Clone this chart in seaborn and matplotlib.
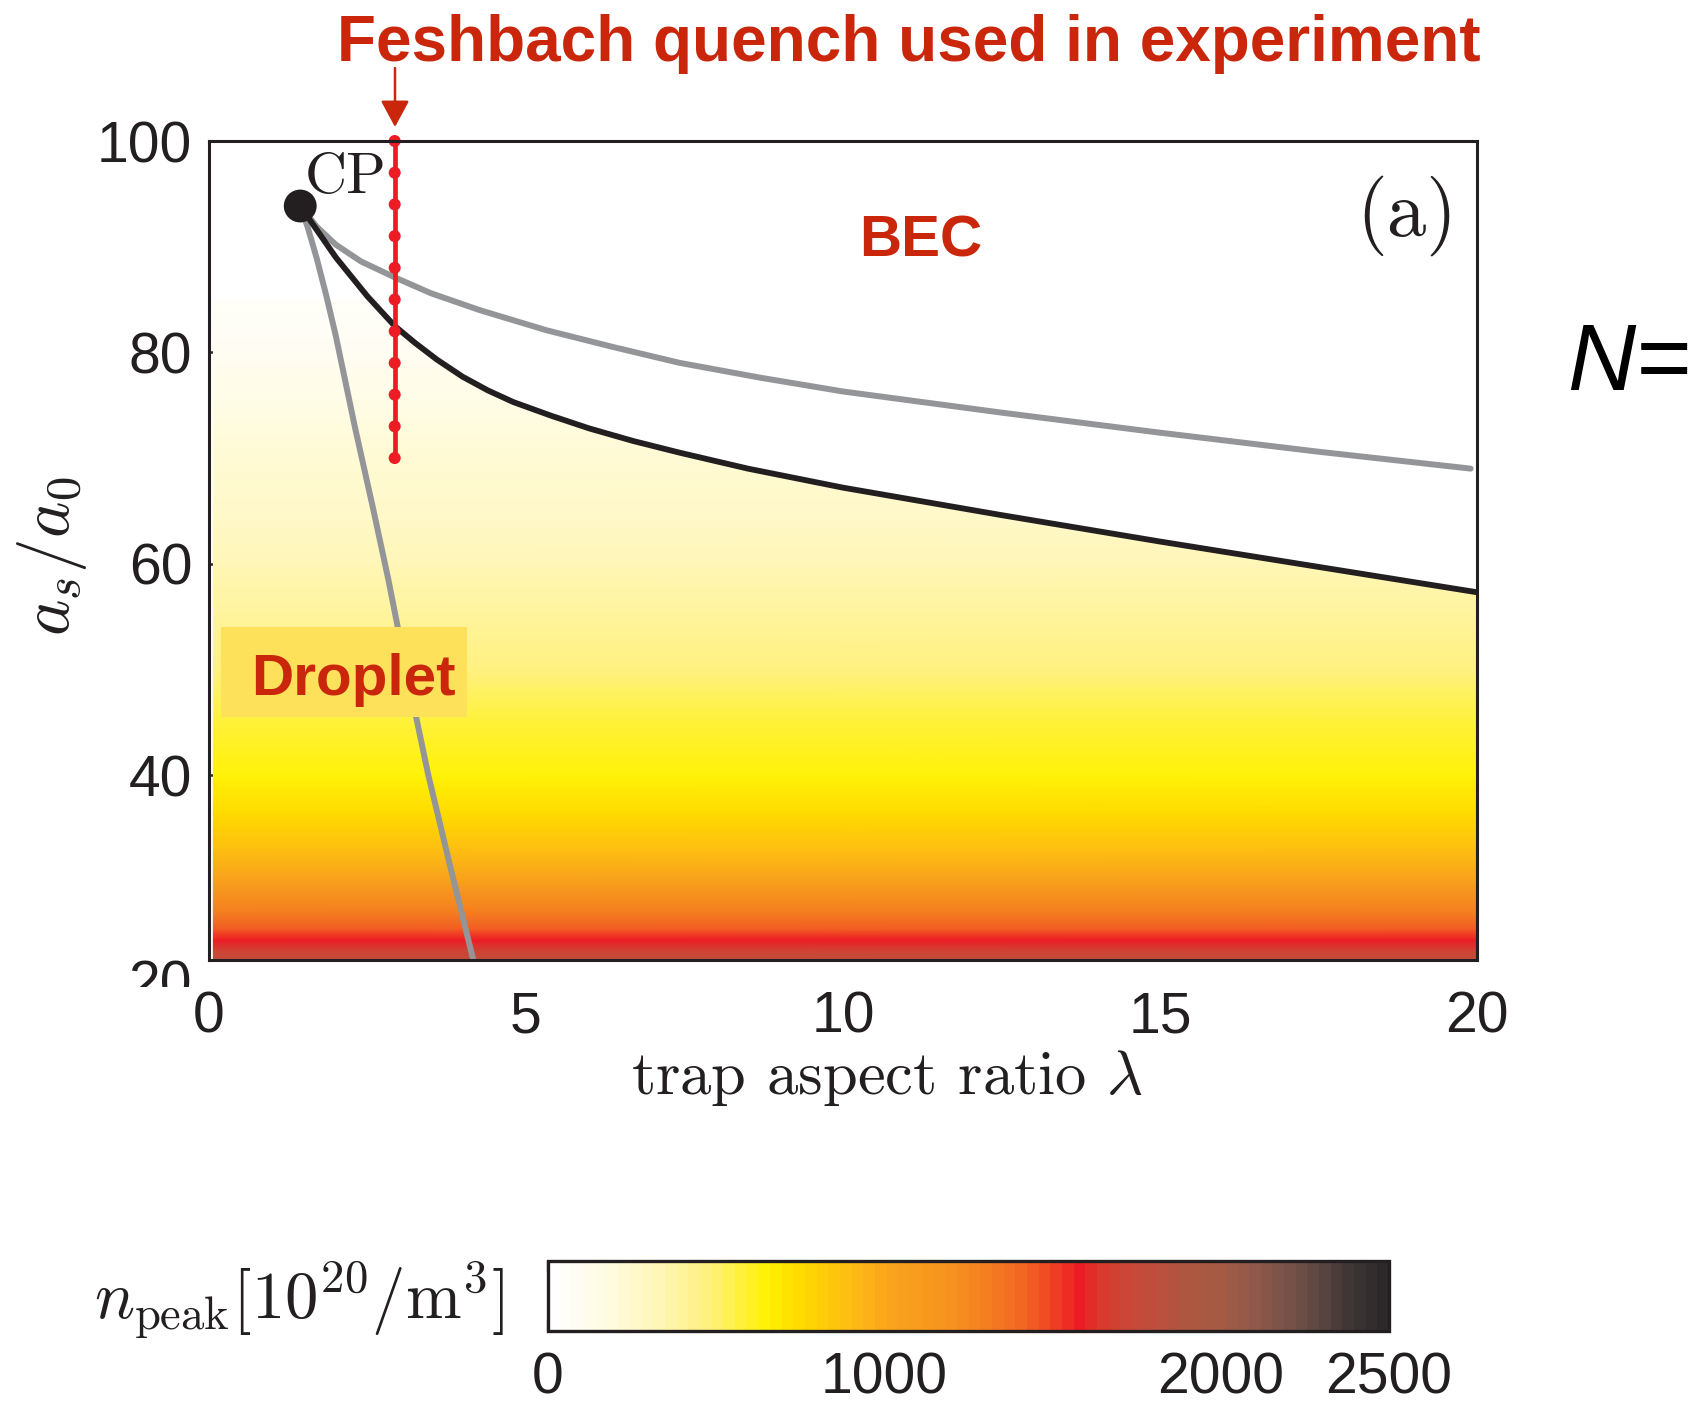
import numpy as np
import matplotlib
matplotlib.use("Agg")
import matplotlib.pyplot as plt
import matplotlib.patches as mpatches
from matplotlib.colors import LinearSegmentedColormap, ListedColormap, Normalize
import seaborn as sns

# ---------------- data ----------------
# phase boundary (black) between droplet and BEC
black_lam = [1.44, 2.0, 2.5, 2.93, 3.25, 3.6, 4.0, 4.4, 4.8, 5.4, 6.0, 6.7, 7.43,
             8.5, 10.0, 12.5, 15.0, 17.5, 20.0]
black_as = [93.85, 89.0, 85.3, 82.5, 80.9, 79.3, 77.7, 76.4, 75.3, 74.0, 72.8, 71.6, 70.5,
            69.0, 67.2, 64.6, 62.1, 59.7, 57.3]
# grey upper curve
gup_lam = [1.44, 1.7, 2.0, 2.4, 2.93, 3.5, 4.27, 5.32, 6.38, 7.43, 8.7, 10.0, 12.5, 15.0, 17.5, 19.9]
gup_as = [93.85, 91.9, 90.2, 88.6, 87.1, 85.6, 84.0, 82.1, 80.5, 79.0, 77.6, 76.3, 74.3, 72.4, 70.6, 69.0]
# grey lower curve
glo_lam = [1.44, 1.56, 1.70, 1.85, 2.0, 2.3, 2.59, 2.83, 3.1, 3.46, 3.8, 4.17]
glo_as = [93.85, 91.8, 88.9, 85.4, 81.6, 73.0, 65.2, 58.5, 50.3, 40.0, 31.5, 22.5]
# critical point
cp_lam = [1.44]
cp_as = [93.85]
# Feshbach quench points
quench_lam = [2.93] * 11
quench_as = [70, 73, 76, 79, 82, 85, 88, 91, 94, 97, 100]
# peak density profile vs scattering length (droplet region)
prof_as = [22.5, 23.5, 24.4, 25.4, 27.0, 30.0, 33.0, 36.4, 40.0, 45.0, 50.0, 55.0,
           60.0, 65.0, 70.0, 75.0, 80.0, 85.0]
prof_n = [1800, 1700, 1585, 1450, 1300, 1050, 900, 750, 640, 560, 480, 400,
          330, 270, 210, 160, 100, 40]
field_lam = [0.07, 20.0]
# axis ticks
xticks = [0, 5, 10, 15, 20]
yticks = [40, 60, 80, 100]
cbar_ticks = [0, 1000, 2000, 2500]

# ---------------- style ----------------
sns.set_style("ticks")
plt.rcParams['font.family'] = ['Liberation Sans', 'DejaVu Sans']
plt.rcParams['mathtext.fontset'] = 'cm'
INK = '#231f20'
RED_TXT = '#c9260c'

# colormap (white-yellow-orange-red-brown-black)
stops = [(0.0, '#ffffff'), (0.065, '#fffbe0'), (0.13, '#fff6b4'), (0.19, '#fff078'),
         (0.257, '#fff200'), (0.30, '#ffd800'), (0.35, '#fdc010'), (0.40, '#f9a61c'),
         (0.48, '#f7921e'), (0.56, '#f26a22'), (0.60, '#f04524'), (0.634, '#ed1c24'),
         (0.66, '#d93a2c'), (0.70, '#c8493a'), (0.76, '#ae5640'), (0.80, '#a65a42'),
         (0.84, '#93594a'), (0.90, '#6f4f48'), (0.96, '#3f3636'), (1.0, '#2d2829')]
base = LinearSegmentedColormap.from_list('npeak', stops, N=512)
cmap = ListedColormap(base(np.linspace(0, 1, 72)))
norm = Normalize(vmin=0, vmax=2500)

fig = plt.figure(figsize=(17, 14.06), dpi=100)
ax = fig.add_axes([0.1229, 0.3172, 0.7459, 0.5825])

# density field
X, Y = np.meshgrid(np.array(field_lam), np.array(prof_as))
C = np.tile(np.array(prof_n, dtype=float)[:, None], (1, len(field_lam)))
mesh = ax.pcolormesh(X, Y, C, cmap=cmap, norm=norm, shading='gouraud', zorder=1)
# BEC region above the boundary is white
ax.fill_between(black_lam, black_as, 100, color='white', lw=0, zorder=1.5)

# curves
line_kw = dict(ax=ax, sort=False, estimator=None)
sns.lineplot(x=gup_lam, y=gup_as, color='#939598', lw=4.3, zorder=3, **line_kw)
sns.lineplot(x=glo_lam, y=glo_as, color='#939598', lw=4.3, zorder=3, **line_kw)
sns.lineplot(x=black_lam, y=black_as, color=INK, lw=4.2, zorder=3.5, **line_kw)
sns.lineplot(x=quench_lam, y=quench_as, color='#ed1c24', lw=3.4, zorder=4, **line_kw)
for l in ax.lines:
    l.set_solid_joinstyle('round')
    l.set_solid_capstyle('round')
sns.scatterplot(x=quench_lam, y=quench_as, ax=ax, s=75, color='#ed1c24',
                edgecolor='none', zorder=4.5, clip_on=False)
sns.scatterplot(x=cp_lam, y=cp_as, ax=ax, s=560, color=INK, edgecolor='none',
                zorder=5, clip_on=False)

ax.set_xlim(0, 20)
ax.set_ylim(22.5, 100)
ax.set_xticks(xticks)
ax.set_yticks(yticks)
ax.set_xlabel('')
ax.set_ylabel('')
for s in ax.spines.values():
    s.set_linewidth(2.2)
    s.set_color(INK)
    s.set_zorder(6)
ax.tick_params(direction='in', length=9, width=1.8, color=INK, labelsize=41,
               labelcolor=INK, top=True, right=True)
ax.tick_params(axis='x', pad=22)
ax.tick_params(axis='y', pad=12)

# partially hidden "20" tick label
ax.text(-0.0134, 20, '20', transform=ax.get_yaxis_transform(), ha='right',
        va='center', fontsize=41, color=INK, clip_on=False)
fig.patches.append(mpatches.Rectangle((90 / 1700, 1 - 1015 / 1406), 102 / 1700, 28 / 1406,
                                      transform=fig.transFigure, fc='white', ec='none',
                                      zorder=10))

# annotations inside the axes
ax.add_patch(mpatches.Rectangle((0.0095, 0.2967), 0.194, 0.1099, transform=ax.transAxes,
                                fc='#fee15b', ec='none', zorder=6))
ax.text(0.1136, 0.3236, 'Droplet', transform=ax.transAxes, ha='center', va='baseline',
        fontsize=42, fontweight='bold', color=RED_TXT, zorder=7)
ax.text(0.5615, 0.8584, 'BEC', transform=ax.transAxes, ha='center', va='baseline',
        fontsize=42, fontweight='bold', color=RED_TXT, zorder=7)
ax.text(0.0757, 0.9365, 'CP', transform=ax.transAxes, ha='left', va='baseline',
        fontsize=42, family='cmr10', color=INK, zorder=7)
ax.text(0.9448, 0.9084, '(a)', transform=ax.transAxes, ha='center', va='center',
        fontsize=57, family='cmr10', color=INK, zorder=7)

# labels
fig.text(0.0306, 0.6046, r'$a_s/a_0$', rotation=90, ha='center', va='center',
         fontsize=50, color=INK)
fig.text(0.5218, 0.2333, r'trap aspect ratio $\lambda$', ha='center', va='center',
         fontsize=45, family='cmr10', color=INK)

# title and arrow
fig.text(0.5347, 0.9566, 'Feshbach quench used in experiment', ha='center',
         va='baseline', fontsize=46, fontweight='bold', color=RED_TXT)
ax.annotate('', xy=(395, 1406 - 127), xycoords='figure pixels',
            xytext=(395, 1406 - 68), textcoords='figure pixels',
            arrowprops=dict(arrowstyle='-|>,head_length=0.65,head_width=0.35',
                            mutation_scale=25, color=RED_TXT, lw=1.8,
                            shrinkA=0, shrinkB=0))

fig.text(0.9218, 0.7226, 'N=', ha='left', va='baseline', fontsize=68,
         style='italic', color='black')

# colorbar
cax = fig.add_axes([0.3224, 0.0533, 0.4947, 0.0498])
cb = fig.colorbar(mesh, cax=cax, orientation='horizontal', ticks=cbar_ticks)
cb.outline.set_linewidth(2.4)
cb.outline.set_edgecolor(INK)
cax.tick_params(direction='in', length=8, width=1.6, color=INK, labelsize=41,
                labelcolor=INK, top=True, bottom=True, pad=15)
fig.text(0.2965, 0.0754, r'$n_{\mathrm{peak}}[10^{20}/\mathrm{m}^3]$', ha='right',
         va='center', fontsize=48, color=INK)

fig.savefig('out.png', dpi=100, facecolor='white')
